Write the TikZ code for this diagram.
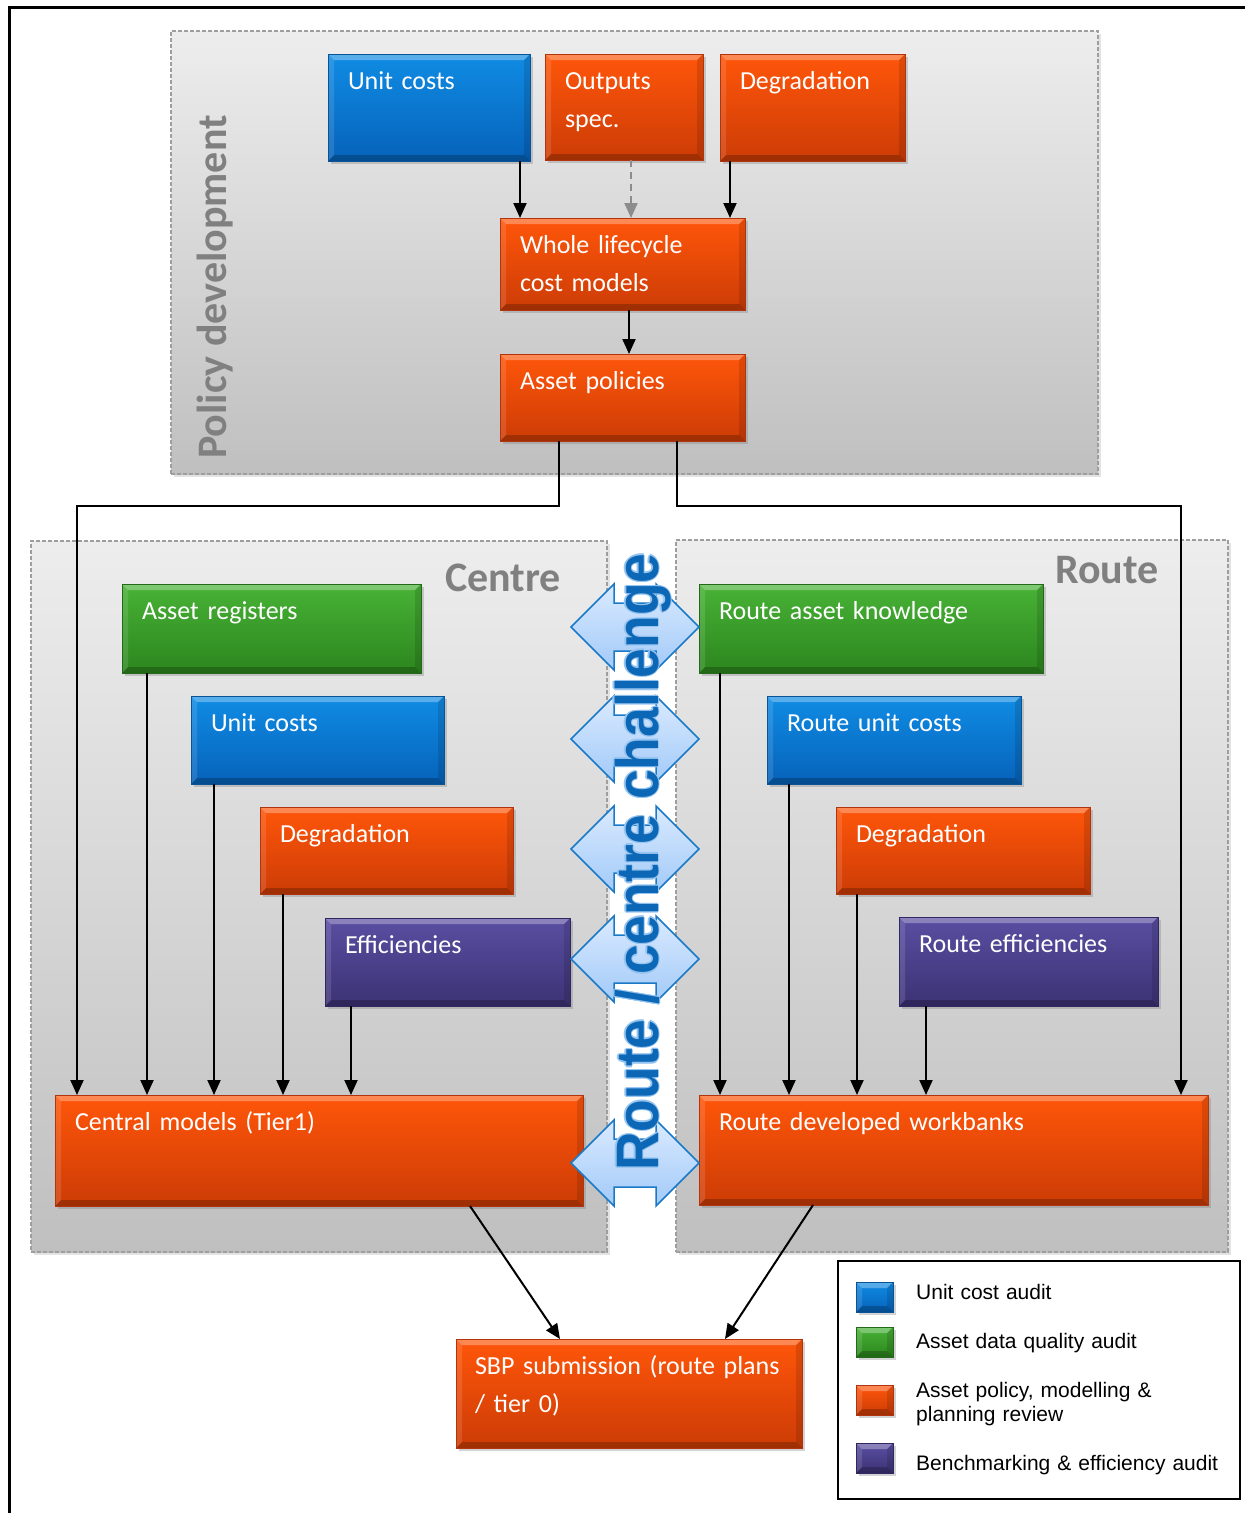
\documentclass[tikz,border=0pt]{standalone}
\usepackage{fontspec}
\setmainfont{Carlito}
\newfontfamily\legfont{Liberation Sans}
\newfontfamily\chalfont[FakeStretch=0.89]{Liberation Sans}
\usetikzlibrary{arrows.meta,shadows}

% tile colours
\definecolor{orTop}{RGB}{255,86,10}
\definecolor{orBot}{RGB}{204,60,6}
\definecolor{orEdge}{RGB}{178,52,14}
\definecolor{blTop}{RGB}{16,140,228}
\definecolor{blBot}{RGB}{6,98,186}
\definecolor{blEdge}{RGB}{10,84,150}
\definecolor{grTop}{RGB}{72,178,54}
\definecolor{grBot}{RGB}{44,134,30}
\definecolor{grEdge}{RGB}{36,104,26}
\definecolor{puTop}{RGB}{90,78,162}
\definecolor{puBot}{RGB}{60,50,116}
\definecolor{puEdge}{RGB}{48,40,96}
% challenge arrows and lettering
\definecolor{chalBlue}{RGB}{12,104,182}
\definecolor{chalRim}{RGB}{150,196,240}
\definecolor{arrTop}{RGB}{218,234,255}
\definecolor{arrBot}{RGB}{162,202,248}
\definecolor{arrEdge}{RGB}{26,122,200}
\definecolor{labGray}{RGB}{128,128,128}

% bevelled edges of a tile
\newcommand\bevelpic{%
  \fill[white,opacity=0.30] (path picture bounding box.north west) -- (path picture bounding box.north east)
    -- ([shift={(-6pt,-6pt)}]path picture bounding box.north east) -- ([shift={(6pt,-6pt)}]path picture bounding box.north west) -- cycle;
  \fill[black,opacity=0.22] (path picture bounding box.south west) -- (path picture bounding box.south east)
    -- ([shift={(-6pt,6pt)}]path picture bounding box.south east) -- ([shift={(6pt,6pt)}]path picture bounding box.south west) -- cycle;
  \fill[white,opacity=0.12] (path picture bounding box.north west) -- ([shift={(6pt,-6pt)}]path picture bounding box.north west)
    -- ([shift={(6pt,6pt)}]path picture bounding box.south west) -- (path picture bounding box.south west) -- cycle;
  \fill[black,opacity=0.12] (path picture bounding box.north east) -- ([shift={(-6pt,-6pt)}]path picture bounding box.north east)
    -- ([shift={(-6pt,6pt)}]path picture bounding box.south east) -- (path picture bounding box.south east) -- cycle;
}

% vertical drop from a tile to the tile below it
\newcommand\dropline[3]{%
  \coordinate (#1-o) at ([xshift=#2pt]#1.south west);
  \draw[conn] (#1-o) -- (#1-o |- #3.north);
}

\tikzset{
  panel/.style={draw=black!38, dash pattern=on 4pt off 2pt, line width=1.2pt,
    top color=black!7, bottom color=black!25, inner sep=0pt, outer sep=0pt, anchor=north west,
    drop shadow={shadow xshift=3pt, shadow yshift=-3pt, opacity=0.22}},
  tile/.style={inner sep=0pt, outer sep=0pt, anchor=north west, line width=0.8pt,
    drop shadow={shadow xshift=2.5pt, shadow yshift=-3pt, opacity=0.35}, path picture={\bevelpic}},
  otile/.style={tile, draw=orEdge, top color=orTop, bottom color=orBot},
  btile/.style={tile, draw=blEdge, top color=blTop, bottom color=blBot},
  gtile/.style={tile, draw=grEdge, top color=grTop, bottom color=grBot},
  ptile/.style={tile, draw=puEdge, top color=puTop, bottom color=puBot},
  tiletext/.style={anchor=base west, inner sep=0pt, outer sep=0pt, text=white, align=left,
    text width=330pt, font=\fontsize{26}{38}\selectfont},
  panellabel/.style={anchor=base, inner sep=0pt, text=labGray, font=\bfseries\fontsize{42}{42}\selectfont},
  legtext/.style={anchor=base west, inner sep=0pt, align=left, text width=320pt,
    font=\legfont\fontsize{21}{24}\selectfont},
  conn/.style={line width=2pt, -{Triangle[length=15pt,width=13pt]}},
  dconn/.style={conn, draw=black!45, dash pattern=on 7pt off 5pt},
  chalarrow/.style={draw=arrEdge, line width=1.5pt, line join=miter, top color=arrTop, bottom color=arrBot},
  chaltext/.style={anchor=base, rotate=90, inner sep=0pt, font=\chalfont\bfseries\fontsize{60}{60}\selectfont},
  dblarr/.pic={\path[chalarrow] (-64,0) -- (-21,-43) -- (-21,-24) -- (21,-24) -- (21,-43) -- (64,0)
      -- (21,43) -- (21,24) -- (-21,24) -- (-21,43) -- cycle;}
}

\begin{document}
\begin{tikzpicture}[x=1pt,y=-1pt]
\useasboundingbox (0,0) rectangle (1245,1513);

% outer frame
\draw[line width=3pt] (9,1513) -- (9,7) -- (1245,7);

% panels
\node[panel, minimum width=927pt, minimum height=443pt] (pol) at (171,31) {};
\node[panel, minimum width=576pt, minimum height=711pt] (cen) at (31,541) {};
\node[panel, minimum width=552pt, minimum height=712pt] (rte) at (676,540) {};

\node[panellabel, rotate=90] (pol-l) at (226,287) {Policy development};
\node[panellabel] (cen-l) at (503,591) {Centre};
\node[panellabel] (rte-l) at (1107,583) {Route};

% policy development tiles
\node[btile, minimum width=202pt, minimum height=107pt] (uc1) at (328,54) {};
\node[otile, minimum width=158pt, minimum height=106pt] (osp) at (545,54) {};
\node[otile, minimum width=185pt, minimum height=107pt] (deg1) at (720,54) {};
\node[otile, minimum width=245pt, minimum height=92pt] (wlc) at (500,218) {};
\node[otile, minimum width=245pt, minimum height=87pt] (ap) at (500,354) {};

% centre tiles
\node[gtile, minimum width=299pt, minimum height=89pt] (ar) at (122,584) {};
\node[btile, minimum width=253pt, minimum height=88pt] (uc2) at (191,696) {};
\node[otile, minimum width=253pt, minimum height=87pt] (deg2) at (260,807) {};
\node[ptile, minimum width=245pt, minimum height=88pt] (eff) at (325,918) {};
\node[otile, minimum width=528pt, minimum height=111pt] (cm) at (55,1095) {};

% route tiles
\node[gtile, minimum width=344pt, minimum height=89pt] (rak) at (699,584) {};
\node[btile, minimum width=254pt, minimum height=88pt] (ruc) at (767,696) {};
\node[otile, minimum width=254pt, minimum height=87pt] (deg3) at (836,807) {};
\node[ptile, minimum width=259pt, minimum height=89pt] (ref) at (899,917) {};
\node[otile, minimum width=509pt, minimum height=110pt] (rw) at (699,1095) {};

% submission tile
\node[otile, minimum width=346pt, minimum height=109pt] (sbp) at (456,1339) {};

% tile texts
\node[tiletext] (uc1-t) at ([shift={(20pt,-35pt)}]uc1.north west) {Unit costs};
\node[tiletext] (osp-t) at ([shift={(20pt,-35pt)}]osp.north west) {Outputs\\spec.};
\node[tiletext] (deg1-t) at ([shift={(20pt,-35pt)}]deg1.north west) {Degradation};
\node[tiletext] (wlc-t) at ([shift={(20pt,-35pt)}]wlc.north west) {Whole lifecycle\\cost models};
\node[tiletext] (ap-t) at ([shift={(20pt,-35pt)}]ap.north west) {Asset policies};
\node[tiletext] (ar-t) at ([shift={(20pt,-35pt)}]ar.north west) {Asset registers};
\node[tiletext] (uc2-t) at ([shift={(20pt,-35pt)}]uc2.north west) {Unit costs};
\node[tiletext] (deg2-t) at ([shift={(20pt,-35pt)}]deg2.north west) {Degradation};
\node[tiletext] (eff-t) at ([shift={(20pt,-35pt)}]eff.north west) {Efficiencies};
\node[tiletext] (cm-t) at ([shift={(20pt,-35pt)}]cm.north west) {Central models (Tier1)};
\node[tiletext] (rak-t) at ([shift={(20pt,-35pt)}]rak.north west) {Route asset knowledge};
\node[tiletext] (ruc-t) at ([shift={(20pt,-35pt)}]ruc.north west) {Route unit costs};
\node[tiletext] (deg3-t) at ([shift={(20pt,-35pt)}]deg3.north west) {Degradation};
\node[tiletext] (ref-t) at ([shift={(20pt,-35pt)}]ref.north west) {Route efficiencies};
\node[tiletext] (rw-t) at ([shift={(20pt,-35pt)}]rw.north west) {Route developed workbanks};
\node[tiletext] (sbp-t) at ([shift={(19pt,-35pt)}]sbp.north west) {SBP submission (route plans\\/ tier 0)};

% policy development flow
\dropline{uc1}{192}{wlc}
\coordinate (osp-o) at ([xshift=86pt]osp.south west);
\draw[dconn] (osp-o) -- (osp-o |- wlc.north);
\dropline{deg1}{10}{wlc}
\dropline{wlc}{129}{ap}

% asset policies feed both sides
\coordinate (ap-l) at ([xshift=59pt]ap.south west);
\coordinate (cm-in) at ([xshift=22pt]cm.north west);
\draw[conn] (ap-l) -- ++(0,65) -| (cm-in);
\coordinate (ap-r) at ([xshift=177pt]ap.south west);
\coordinate (rw-in) at ([xshift=482pt]rw.north west);
\draw[conn] (ap-r) -- ++(0,65) -| (rw-in);

% centre inputs
\dropline{ar}{25}{cm}
\dropline{uc2}{23}{cm}
\dropline{deg2}{23}{cm}
\dropline{eff}{26}{cm}

% route inputs
\dropline{rak}{21}{rw}
\dropline{ruc}{22}{rw}
\dropline{deg3}{21}{rw}
\dropline{ref}{27}{rw}

% into the submission
\coordinate (cm-out) at ([xshift=415pt]cm.south west);
\coordinate (sbp-l) at ([xshift=104pt]sbp.north west);
\draw[conn] (cm-out) -- (sbp-l);
\coordinate (rw-out) at ([xshift=114pt]rw.south west);
\coordinate (sbp-r) at ([xshift=269pt]sbp.north west);
\draw[conn] (rw-out) -- (sbp-r);

% route / centre challenge arrows
\pic (da1) at (635,627) {dblarr};
\pic (da2) at (635,739) {dblarr};
\pic (da3) at (635,849) {dblarr};
\pic (da4) at (635,959) {dblarr};
\pic (da5) at (635,1163) {dblarr};

% lettering with a pale rim behind it
\foreach \dx/\dy [count=\k] in {1.2/0,-1.2/0,0/1.2,0/-1.2,0.9/0.9,-0.9/0.9,0.9/-0.9,-0.9/-0.9}
  \node[chaltext, text=chalRim] (chal-rim\k) at (658+\dx,862+\dy) {Route / centre challenge};
\node[chaltext, text=chalBlue] (chal) at (658,862) {Route / centre challenge};

% legend
\node[draw, line width=2.5pt, inner sep=0pt, outer sep=0pt, anchor=north west,
      minimum width=402pt, minimum height=238pt] (legend) at (838,1261) {};
\node[btile, minimum width=37pt, minimum height=30pt] (sw1) at (856,1282) {};
\node[gtile, minimum width=37pt, minimum height=30pt] (sw2) at (856,1327) {};
\node[otile, minimum width=37pt, minimum height=30pt] (sw3) at (856,1385) {};
\node[ptile, minimum width=37pt, minimum height=30pt] (sw4) at (856,1443) {};
\node[legtext] (lt1) at (916,1299) {Unit cost audit};
\node[legtext] (lt2) at (916,1348) {Asset data quality audit};
\node[legtext] (lt3) at (916,1397) {Asset policy, modelling \&\\planning review};
\node[legtext] (lt4) at (916,1470) {Benchmarking \& efficiency audit};
\end{tikzpicture}
\end{document}
